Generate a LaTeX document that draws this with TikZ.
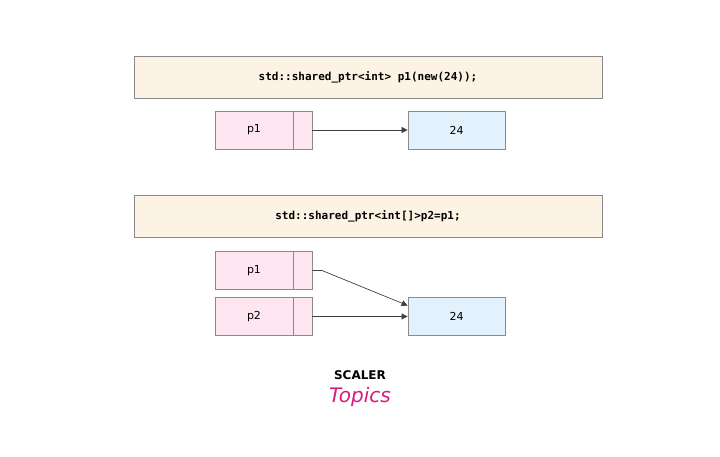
\documentclass[tikz,border=0pt]{standalone}
\usepackage{fontspec}
\setmainfont{DejaVu Sans}
\setmonofont{DejaVu Sans Mono}
\usetikzlibrary{arrows.meta}
\definecolor{ban}{HTML}{FDF3E4}
\definecolor{pk}{HTML}{FDE6EF}
\definecolor{bl}{HTML}{E3F1FC}
\definecolor{ln}{HTML}{8A8A8A}
\definecolor{mag}{HTML}{D81B7A}
\tikzset{
 box/.style={draw=ln,line width=0.8pt,inner sep=0pt,minimum height=38pt},
 banner/.style={box,fill=ban,minimum width=468pt,minimum height=42pt,font=\ttfamily\bfseries\fontsize{11}{13}\selectfont},
 ptr/.style={box,fill=pk,minimum width=78pt,font=\fontsize{11}{13}\selectfont},
 tail/.style={box,fill=pk,minimum width=19pt},
 val/.style={box,fill=bl,minimum width=97pt,font=\fontsize{11}{13}\selectfont},
 arr/.style={draw=black!75,line width=0.7pt,-{Triangle[length=6pt,width=6pt]}}
}
\begin{document}
\begin{tikzpicture}[x=1pt,y=-1pt]
\useasboundingbox (0,0) rectangle (720,457);
\node[banner] (b1) at (368,77) {std::shared\_ptr<int> p1(new(24));};
\node[ptr] (a1) at (254,130) {p1};
\node[tail] (a1t) at (302.5,130) {};
\node[val] (v1) at (456.5,130) {24};
\draw[arr] (a1t.east) -- (v1.west);
\node[banner] (b2) at (368,216.5) {std::shared\_ptr<int[]>p2=p1;};
\node[ptr] (c1) at (254,270.5) {p1};
\node[tail] (c1t) at (302.5,270.5) {};
\node[ptr] (c2) at (254,316.5) {p2};
\node[tail] (c2t) at (302.5,316.5) {};
\node[val] (v2) at (456.5,316.5) {24};
\coordinate (k) at (322,270.5);
\draw[arr] (c1t.east) -- (k) -- ([yshift=11pt]v2.west);
\draw[arr] (c2t.east) -- (v2.west);
\node[font=\bfseries\fontsize{12}{14}\selectfont] (s) at (360,375) {SCALER};
\node[font=\itshape\fontsize{20}{22}\selectfont,text=mag] (t) at (360,397) {Topics};
\end{tikzpicture}
\end{document}
